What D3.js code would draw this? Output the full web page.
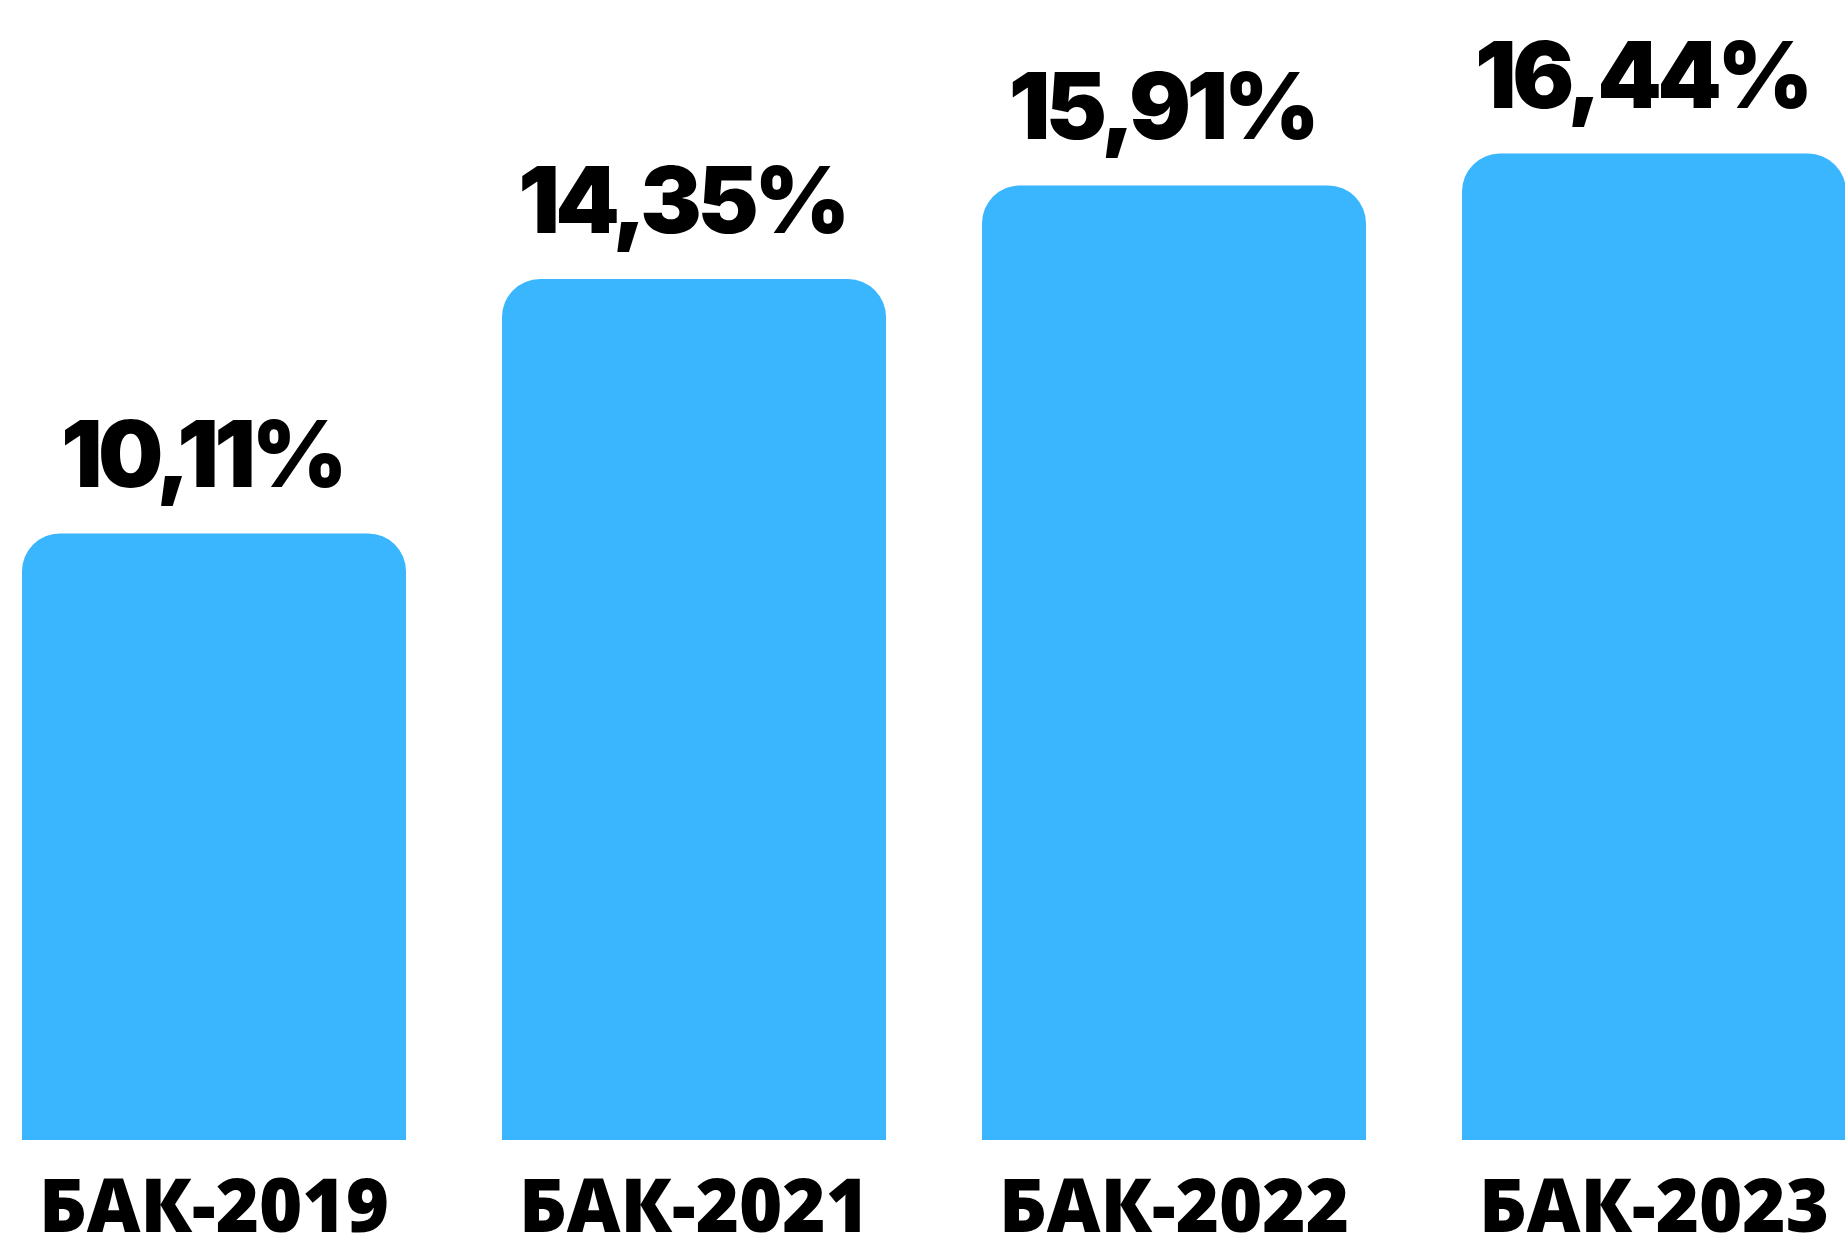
<!DOCTYPE html>
<html>
<head>
<meta charset="utf-8">
<script src="https://cdn.jsdelivr.net/npm/d3@7"></script>
<style>
  html, body { margin: 0; padding: 0; background: #ffffff; }
  svg { display: block; }
</style>
</head>
<body>
<svg id="chart" width="1845" height="1239"></svg>
<script>
const categories = ["БАК-2019", "БАК-2021", "БАК-2022", "БАК-2023"];
const values = [10.11, 14.35, 15.91, 16.44];
const valueLabels = ["10,11%", "14,35%", "15,91%", "16,44%"];

const svg = d3.select("#chart");

const x = d3.scaleBand()
  .domain(categories)
  .range([22, 1846])
  .paddingInner(0.2)
  .paddingOuter(0);

const y = d3.scaleLinear()
  .domain([0, 19])
  .range([1140, 0]);

const r = 38;
function topRounded(x0, y0, w, h, rad) {
  const rr = Math.min(rad, w / 2, h);
  return `M${x0},${y0 + h}` +
    `V${y0 + rr}` +
    `A${rr},${rr} 0 0 1 ${x0 + rr},${y0}` +
    `H${x0 + w - rr}` +
    `A${rr},${rr} 0 0 1 ${x0 + w},${y0 + rr}` +
    `V${y0 + h}Z`;
}

const data = categories.map((c, i) => ({ c, v: values[i], label: valueLabels[i] }));

svg.append("g").selectAll("path")
  .data(data)
  .join("path")
  .attr("d", d => topRounded(x(d.c), y(d.v), x.bandwidth(), y(0) - y(d.v), r))
  .attr("fill", "#39b6fe");

svg.append("g").selectAll("text")
  .data(data)
  .join("text")
  .attr("x", d => x(d.c) + x.bandwidth() / 2 - 12)
  .attr("y", d => y(d.v) - 46)
  .attr("text-anchor", "middle")
  .attr("font-family", "Inter, 'Open Sans', sans-serif")
  .attr("font-weight", 900)
  .attr("font-size", 92)
  .attr("letter-spacing", -4.5)
  .attr("fill", "#000")
  .text(d => d.label);

const xAxis = d3.axisBottom(x).tickSize(0).tickPadding(0);
const gx = svg.append("g")
  .attr("transform", `translate(0, 1140)`)
  .call(xAxis);
gx.select(".domain").remove();
gx.selectAll("text")
  .attr("dy", 0)
  .attr("y", 92)
  .attr("font-family", "'Open Sans', sans-serif")
  .attr("font-weight", 800)
  .attr("font-size", 74)
  .attr("fill", "#000");
</script>
</body>
</html>
